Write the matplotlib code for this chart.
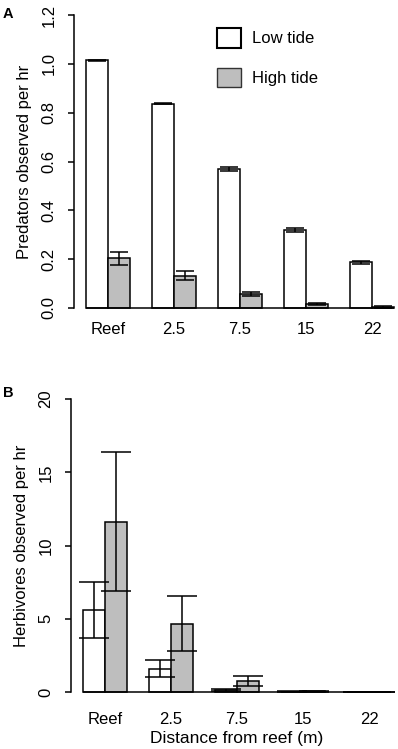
import numpy as np
import matplotlib
matplotlib.use('Agg')
import matplotlib.pyplot as plt
from matplotlib.patches import Patch

plt.rcParams['font.family'] = ['Liberation Sans', 'DejaVu Sans']
plt.rcParams['font.size'] = 12

# Dane
sites = ['Reef', '2.5', '7.5', '15', '22']

pred_low = [1.015, 0.837, 0.570, 0.320, 0.187]
pred_low_se = [0.002, 0.003, 0.007, 0.009, 0.007]
pred_high = [0.203, 0.133, 0.056, 0.016, 0.004]
pred_high_se = [0.028, 0.018, 0.008, 0.003, 0.004]

herb_low = [5.6, 1.6, 0.15, 0.02, 0.0]
herb_low_se = [1.93, 0.57, 0.08, 0.02, 0.0]
herb_high = [11.63, 4.67, 0.75, 0.06, 0.0]
herb_high_se = [4.75, 1.9, 0.35, 0.03, 0.0]

pred_ticks = [0.0, 0.2, 0.4, 0.6, 0.8, 1.0, 1.2]
herb_ticks = [0, 5, 10, 15, 20]

W, H = 398, 749
fig = plt.figure(figsize=(W / 100, H / 100), dpi=100)

unit = 22.0  # px na jednostke osi x (jak barplot w R)
n = len(sites)
x_low = 1.5 + 3 * np.arange(n)
x_high = x_low + 1
centers = x_low + 0.5
xmin, xmax = 0.44, 15.56


def panel(left_px, top_px, bottom_px, low, low_se, high, high_se, ticks, ylabel,
          letter, letter_y, capsize, xpad):
    rng = ticks[-1] - ticks[0]
    ax = fig.add_axes([left_px / W, 1 - bottom_px / H, (xmax - xmin) * unit / W,
                       (bottom_px - top_px) / H])
    ax.set_xlim(xmin, xmax)
    ax.set_ylim(ticks[0] - 0.04 * rng, ticks[-1] + 0.04 * rng)

    ax.bar(x_low, low, width=1, color='white', edgecolor='black', linewidth=1.1, zorder=2)
    ax.bar(x_high, high, width=1, color='#BEBEBE', edgecolor='black', linewidth=1.1, zorder=2)
    ax.errorbar(x_low, low, yerr=low_se, fmt='none', ecolor='black', elinewidth=1.1,
                capsize=capsize, capthick=1.1, zorder=3)
    ax.errorbar(x_high, high, yerr=high_se, fmt='none', ecolor='black', elinewidth=1.1,
                capsize=capsize, capthick=1.1, zorder=3)
    ax.hlines(0, x_low[0] - 0.5, x_high[-1] + 0.5, color='black', linewidth=1.1, zorder=4)

    for s in ['top', 'right', 'bottom']:
        ax.spines[s].set_visible(False)
    ax.spines['left'].set_bounds(ticks[0], ticks[-1])
    ax.spines['left'].set_linewidth(1.1)
    ax.set_yticks(ticks)
    if isinstance(ticks[0], float):
        ax.set_yticklabels([f'{t:.1f}' for t in ticks])
    ax.tick_params(axis='y', length=4.5, width=1.1, pad=8)
    for lab in ax.get_yticklabels():
        lab.set_rotation(90)
        lab.set_va('center')
    ax.set_xticks(centers)
    ax.set_xticklabels(sites)
    ax.tick_params(axis='x', length=0, pad=xpad)
    ax.set_ylabel(ylabel, labelpad=7)
    fig.text(3 / W, 1 - letter_y / H, letter, fontweight='bold', fontsize=10.5,
             va='top', ha='left')
    return ax


axA = panel(73.7, 3.3, 319.7, pred_low, pred_low_se, pred_high, pred_high_se,
            pred_ticks, 'Predators observed per hr', 'A', 7, 6.5, 2)
axB = panel(70.7, 387.3, 703.7, herb_low, herb_low_se, herb_high, herb_high_se,
            herb_ticks, 'Herbivores observed per hr', 'B', 386, 11, 6)
axB.set_xlabel('Distance from reef (m)', fontsize=12.5, labelpad=3)

handles = [Patch(facecolor='white', edgecolor='black', linewidth=1.5),
           Patch(facecolor='#BEBEBE', edgecolor='#333333', linewidth=1.0)]
axA.legend(handles, ['Low tide', 'High tide'], loc='upper left',
           bbox_to_anchor=(217 / W, 1 - 28 / H), bbox_transform=fig.transFigure,
           frameon=False, handlelength=1.44, handleheight=1.44, labelspacing=1.2,
           handletextpad=0.66, borderpad=0, borderaxespad=0)

fig.savefig('out.png', dpi=100)
